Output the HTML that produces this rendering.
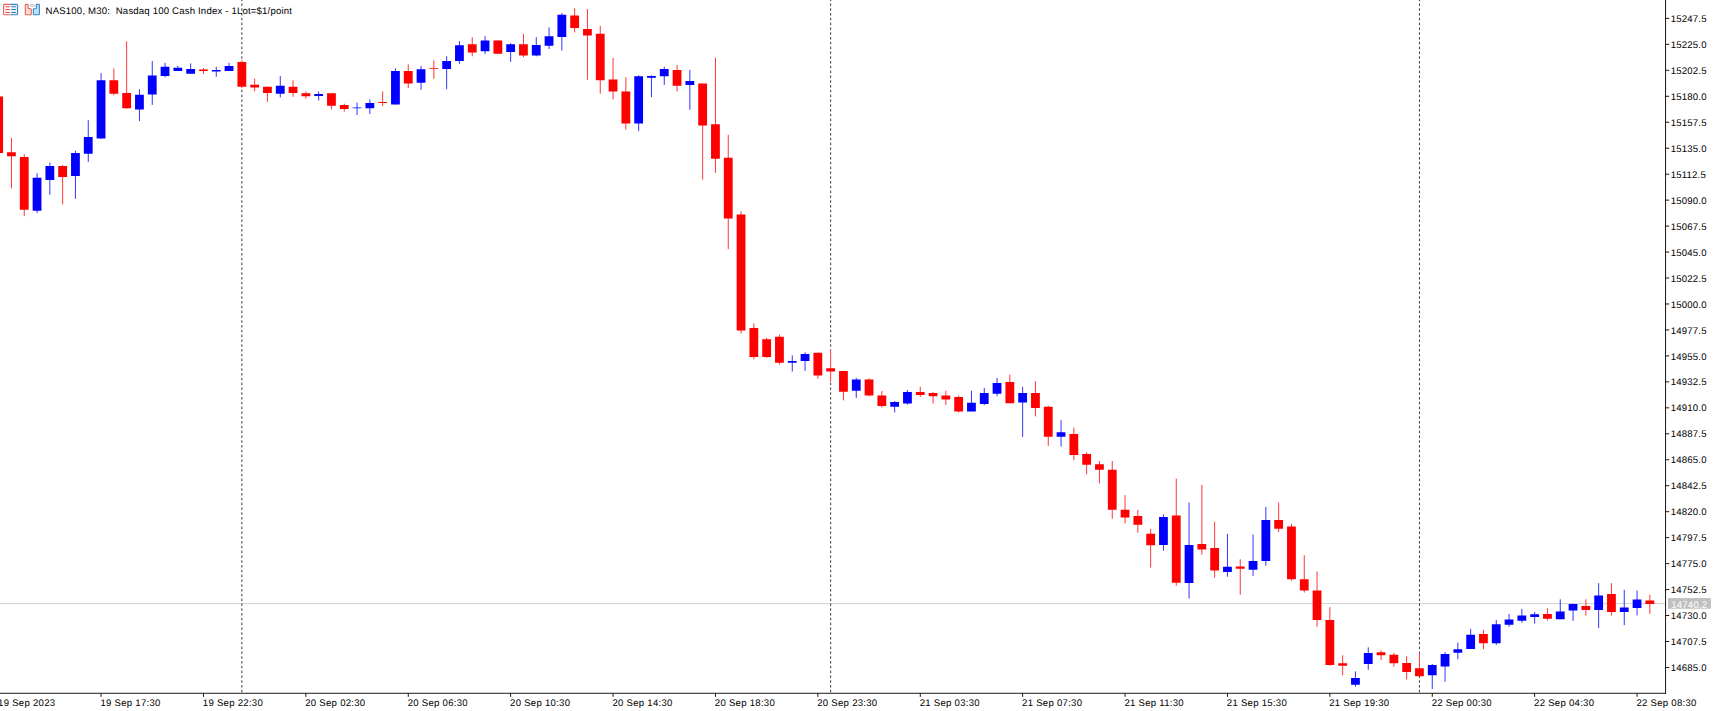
<!DOCTYPE html>
<html lang="en"><head><meta charset="utf-8"><title>NAS100, M30</title>
<style>html,body{margin:0;padding:0;background:#fff;overflow:hidden}svg{display:block}text{font-family:"Liberation Sans","DejaVu Sans",sans-serif;fill:#000;text-rendering:geometricPrecision}.ax{font-size:9.6px;letter-spacing:0.19px}.dt{font-size:9.6px;letter-spacing:0.26px}.tt{font-size:9.6px;letter-spacing:0.175px}</style></head><body>
<svg width="1716" height="711" viewBox="0 0 1716 711">
<rect width="1716" height="711" fill="#fff"/>
<rect x="0" y="603.25" width="1665.6" height="0.85" fill="#c8c8c8"/>
<line x1="241.85" y1="-1.3" x2="241.85" y2="60.2" stroke="#000" stroke-width="0.8" stroke-dasharray="2.4 2.4" stroke-dashoffset="0"/>
<line x1="241.85" y1="88.3" x2="241.85" y2="693.25" stroke="#000" stroke-width="0.8" stroke-dasharray="2.4 2.4" stroke-dashoffset="3.2"/>
<line x1="830.65" y1="-1.3" x2="830.65" y2="349.5" stroke="#000" stroke-width="0.8" stroke-dasharray="2.4 2.4" stroke-dashoffset="0"/>
<line x1="830.65" y1="381.8" x2="830.65" y2="693.25" stroke="#000" stroke-width="0.8" stroke-dasharray="2.4 2.4" stroke-dashoffset="3.9"/>
<line x1="1419.45" y1="-1.3" x2="1419.45" y2="652.7" stroke="#000" stroke-width="0.8" stroke-dasharray="2.4 2.4" stroke-dashoffset="0"/>
<line x1="1419.45" y1="676.2" x2="1419.45" y2="693.25" stroke="#000" stroke-width="0.8" stroke-dasharray="2.4 2.4" stroke-dashoffset="0.7"/>
<path d="M-1.35 96.6V153.1M11.45 137.9V188.4M24.25 154.4V216.2M62.65 165V204.3M113.85 68.4V95.3M126.65 41.4V108.7M203.45 68V74M241.85 60.2V88.3M254.65 78.7V91.4M267.45 86.7V101.8M293.05 80.2V96.8M305.85 91.5V98.7M331.45 93.2V109.3M344.25 103.7V111.7M382.65 91.5V106.1M408.25 64.3V88M433.85 60.3V78.85M472.25 37.2V56.3M497.85 40.4V53.8M523.45 33.9V57.2M574.65 8.2V32.4M587.45 9.1V79.8M600.25 26V93.7M613.05 58V99.3M625.85 77.1V129.6M677.05 65V91.5M702.65 83.6V179.6M715.45 57.7V172.8M728.25 134.8V249.2M741.05 211.3V333.6M753.85 323.4V359.3M766.65 337.9V357.9M779.45 334.7V364.5M817.85 352.7V378.6M830.65 349.5V381.8M843.45 370.9V400.4M869.05 378.3V396.2M881.85 391V407.6M920.25 386.8V397M933.05 392.1V403.6M945.85 390.7V405M958.65 395.5V412.4M1009.85 374.6V403.3M1035.45 381.2V416.4M1048.25 405.8V445.9M1073.85 427.6V460.2M1086.65 452.3V474.4M1099.45 461V483.4M1112.25 461V518.8M1125.05 495.1V523.3M1137.85 509.8V532.7M1150.65 528.9V567.6M1176.25 478.7V585.8M1201.85 485V554.8M1214.65 521.7V577.7M1240.25 559.3V594.7M1278.65 502.4V532.1M1291.45 523.8V580.7M1304.25 555.3V592.6M1317.05 571.5V626.6M1329.85 607.2V665.8M1342.65 655.3V675.4M1381.05 650.3V660.1M1393.85 653V666.8M1406.65 656.2V679.4M1419.45 652.7V676.2M1483.45 629.7V649.2M1547.45 608.2V620.4M1585.85 599.3V615.6M1611.45 583.2V615.6M1649.85 594.8V613.8" stroke="#ff0000" stroke-width="0.8" fill="none"/>
<path d="M37.05 173.2V212.9M49.85 162.6V194.8M75.45 150.7V198.8M88.25 120.2V161.9M101.05 73.1V138.6M139.45 89.1V121M152.25 61V104.9M165.05 62.8V77.4M177.85 65.9V70.9M190.65 63.4V73.8M216.25 66.8V76.8M229.05 62.8V70.9M280.25 76.1V97.5M318.65 91.5V100.5M357.05 102.7V115M369.85 99.5V114M395.45 68.3V104.4M421.05 66V89.9M446.65 56.3V89.2M459.45 41.1V63.9M485.05 36.2V54M510.65 43.2V61.9M536.25 37.1V56.3M549.05 27.4V49M561.85 13.1V50.6M638.65 75.3V131.2M651.45 75.3V97.1M664.25 66.8V84.9M689.85 69.9V109.8M792.25 355.4V371.6M805.05 352.3V370.9M856.25 377.9V398M894.65 401.1V412.4M907.45 390V404.6M971.45 390.7V411.4M984.25 387.9V405.1M997.05 377.9V396.2M1022.65 386.8V437M1061.05 420.2V446.5M1163.45 514.3V550.7M1189.05 502.6V598.6M1227.45 533.9V576.7M1253.05 534.6V576M1265.85 506.9V565.8M1355.45 671.4V686.7M1368.25 647.3V669.8M1432.25 663.9V689M1445.05 652V681.8M1457.85 642.6V659.4M1470.65 628.8V648.9M1496.25 620V644.9M1509.05 614V626.8M1521.85 608.9V622.7M1534.65 612V623.7M1560.25 599.3V619.3M1573.05 603.6V620.9M1598.65 583.2V628M1624.25 589.8V625.1M1637.05 590.6V615.4" stroke="#0000ff" stroke-width="0.8" fill="none"/>
<path d="M-5.75 96.6h8.8V153.1h-8.8zM7.05 152.2h8.8V156.2h-8.8zM19.85 156.9h8.8V209.8h-8.8zM58.25 165.9h8.8V176.9h-8.8zM109.45 80.2h8.8V93.7h-8.8zM122.25 92.9h8.8V108.2h-8.8zM199.05 69.4h8.8V71h-8.8zM237.45 61.9h8.8V86.8h-8.8zM250.25 84.8h8.8V87.5h-8.8zM263.05 86.7h8.8V92.9h-8.8zM288.65 86.7h8.8V92.9h-8.8zM301.45 93.2h8.8V96.2h-8.8zM327.05 93.2h8.8V105.8h-8.8zM339.85 105.1h8.8V109.1h-8.8zM378.25 102.1h8.8V102.9h-8.8zM403.85 70.9h8.8V83.6h-8.8zM429.45 68.25h8.8V69.05h-8.8zM467.85 44.3h8.8V52.4h-8.8zM493.45 40.4h8.8V53.8h-8.8zM519.05 44.3h8.8V55.4h-8.8zM570.25 15.5h8.8V28.1h-8.8zM583.05 29.1h8.8V35.5h-8.8zM595.85 33.8h8.8V80.2h-8.8zM608.65 79.5h8.8V91.4h-8.8zM621.45 91.5h8.8V123.6h-8.8zM672.65 69.9h8.8V85.8h-8.8zM698.25 83.6h8.8V125.6h-8.8zM711.05 124.2h8.8V158.7h-8.8zM723.85 157.8h8.8V218.5h-8.8zM736.65 214.6h8.8V330.6h-8.8zM749.45 328.1h8.8V356.9h-8.8zM762.25 339.3h8.8V356.9h-8.8zM775.05 336.8h8.8V362.8h-8.8zM813.45 352.7h8.8V375.5h-8.8zM826.25 368.2h8.8V371.6h-8.8zM839.05 370.9h8.8V391.7h-8.8zM864.65 379.4h8.8V395.6h-8.8zM877.45 395.5h8.8V406h-8.8zM915.85 392.1h8.8V394.9h-8.8zM928.65 393.1h8.8V396.2h-8.8zM941.45 395.5h8.8V399.4h-8.8zM954.25 397h8.8V411.6h-8.8zM1005.45 381.9h8.8V403.3h-8.8zM1031.05 393.1h8.8V407.9h-8.8zM1043.85 406.8h8.8V436.8h-8.8zM1069.45 433.9h8.8V455h-8.8zM1082.25 454h8.8V464.8h-8.8zM1095.05 464.3h8.8V469.7h-8.8zM1107.85 469.7h8.8V509.8h-8.8zM1120.65 509.8h8.8V517.6h-8.8zM1133.45 516.1h8.8V524.8h-8.8zM1146.25 533.8h8.8V545.3h-8.8zM1171.85 515.4h8.8V582.7h-8.8zM1197.45 544h8.8V549.6h-8.8zM1210.25 548h8.8V570.5h-8.8zM1235.85 566.6h8.8V568.8h-8.8zM1274.25 519.9h8.8V528.7h-8.8zM1287.05 526.5h8.8V579.3h-8.8zM1299.85 579.3h8.8V590.4h-8.8zM1312.65 590.6h8.8V619.9h-8.8zM1325.45 619.9h8.8V664.9h-8.8zM1338.25 663.3h8.8V665.7h-8.8zM1376.65 652.3h8.8V655.2h-8.8zM1389.45 654.8h8.8V663.2h-8.8zM1402.25 663h8.8V672h-8.8zM1415.05 668.2h8.8V676.2h-8.8zM1479.05 634.1h8.8V643.3h-8.8zM1543.05 614.1h8.8V618.7h-8.8zM1581.45 606.1h8.8V609.9h-8.8zM1607.05 594.1h8.8V612h-8.8zM1645.45 600.4h8.8V604.1h-8.8z" fill="#ff0000"/>
<path d="M32.65 177.8h8.8V210.7h-8.8zM45.45 165.9h8.8V180.1h-8.8zM71.05 153.1h8.8V175.9h-8.8zM83.85 137h8.8V153.8h-8.8zM96.65 80.2h8.8V138.6h-8.8zM135.05 94.8h8.8V109.6h-8.8zM147.85 75.5h8.8V94.5h-8.8zM160.65 66.8h8.8V76.1h-8.8zM173.45 67.7h8.8V70.9h-8.8zM186.25 69h8.8V73.8h-8.8zM211.85 70h8.8V71.6h-8.8zM224.65 66h8.8V70.9h-8.8zM275.85 85.8h8.8V93.8h-8.8zM314.25 94.1h8.8V96.1h-8.8zM352.65 107.5h8.8V108.3h-8.8zM365.45 103h8.8V108.2h-8.8zM391.05 70.9h8.8V104.4h-8.8zM416.65 69.2h8.8V82.7h-8.8zM442.25 61.1h8.8V69h-8.8zM455.05 45.3h8.8V61.1h-8.8zM480.65 40.4h8.8V51.2h-8.8zM506.25 44.3h8.8V52.1h-8.8zM531.85 45.1h8.8V55.5h-8.8zM544.65 36.3h8.8V45.7h-8.8zM557.45 14.8h8.8V37h-8.8zM634.25 76.3h8.8V123.6h-8.8zM647.05 76.1h8.8V77.8h-8.8zM659.85 68.9h8.8V76.2h-8.8zM685.45 81h8.8V85h-8.8zM787.85 360.9h8.8V362.8h-8.8zM800.65 354h8.8V361h-8.8zM851.85 379.4h8.8V390.7h-8.8zM890.25 401.9h8.8V406.7h-8.8zM903.05 392.1h8.8V403.6h-8.8zM967.05 402.8h8.8V411.4h-8.8zM979.85 393.1h8.8V404.1h-8.8zM992.65 382.9h8.8V393.8h-8.8zM1018.25 393.1h8.8V402.6h-8.8zM1056.65 432.2h8.8V436.8h-8.8zM1159.05 517h8.8V544.9h-8.8zM1184.65 544.9h8.8V583.1h-8.8zM1223.05 566.8h8.8V572.1h-8.8zM1248.65 561.1h8.8V569.7h-8.8zM1261.45 519.9h8.8V560.9h-8.8zM1351.05 678h8.8V684.8h-8.8zM1363.85 653h8.8V663.9h-8.8zM1427.85 665.1h8.8V675.2h-8.8zM1440.65 654.1h8.8V666.5h-8.8zM1453.45 649.2h8.8V652.7h-8.8zM1466.25 634.8h8.8V648.9h-8.8zM1491.85 624.3h8.8V643.3h-8.8zM1504.65 619.5h8.8V624.8h-8.8zM1517.45 615.6h8.8V620.8h-8.8zM1530.25 614.2h8.8V616.9h-8.8zM1555.85 611.5h8.8V619.3h-8.8zM1568.65 604.1h8.8V610.6h-8.8zM1594.25 595.45h8.8V609.9h-8.8zM1619.85 607.5h8.8V612h-8.8zM1632.65 599.5h8.8V608h-8.8z" fill="#0000ff"/>
<rect x="1665.6" y="0" width="50.40000000000009" height="711" fill="#fff"/>
<rect x="0" y="693.25" width="1716" height="17.75" fill="#fff"/>
<rect x="1665.1499999999999" y="0" width="0.9" height="693.7" fill="#000"/>
<rect x="0" y="692.8" width="1666.05" height="0.9" fill="#000"/>
<rect x="1665.6" y="17.9" width="3.6" height="0.9" fill="#000"/>
<text class="ax" x="1670.7" y="21.95">15247.5</text>
<rect x="1665.6" y="43.87" width="3.6" height="0.9" fill="#000"/>
<text class="ax" x="1670.7" y="47.92">15225.0</text>
<rect x="1665.6" y="69.83" width="3.6" height="0.9" fill="#000"/>
<text class="ax" x="1670.7" y="73.88">15202.5</text>
<rect x="1665.6" y="95.8" width="3.6" height="0.9" fill="#000"/>
<text class="ax" x="1670.7" y="99.85">15180.0</text>
<rect x="1665.6" y="121.76" width="3.6" height="0.9" fill="#000"/>
<text class="ax" x="1670.7" y="125.81">15157.5</text>
<rect x="1665.6" y="147.73" width="3.6" height="0.9" fill="#000"/>
<text class="ax" x="1670.7" y="151.78">15135.0</text>
<rect x="1665.6" y="173.7" width="3.6" height="0.9" fill="#000"/>
<text class="ax" x="1670.7" y="177.75">15112.5</text>
<rect x="1665.6" y="199.66" width="3.6" height="0.9" fill="#000"/>
<text class="ax" x="1670.7" y="203.71">15090.0</text>
<rect x="1665.6" y="225.63" width="3.6" height="0.9" fill="#000"/>
<text class="ax" x="1670.7" y="229.68">15067.5</text>
<rect x="1665.6" y="251.59" width="3.6" height="0.9" fill="#000"/>
<text class="ax" x="1670.7" y="255.64">15045.0</text>
<rect x="1665.6" y="277.56" width="3.6" height="0.9" fill="#000"/>
<text class="ax" x="1670.7" y="281.61">15022.5</text>
<rect x="1665.6" y="303.53" width="3.6" height="0.9" fill="#000"/>
<text class="ax" x="1670.7" y="307.58">15000.0</text>
<rect x="1665.6" y="329.49" width="3.6" height="0.9" fill="#000"/>
<text class="ax" x="1670.7" y="333.54">14977.5</text>
<rect x="1665.6" y="355.46" width="3.6" height="0.9" fill="#000"/>
<text class="ax" x="1670.7" y="359.51">14955.0</text>
<rect x="1665.6" y="381.42" width="3.6" height="0.9" fill="#000"/>
<text class="ax" x="1670.7" y="385.47">14932.5</text>
<rect x="1665.6" y="407.39" width="3.6" height="0.9" fill="#000"/>
<text class="ax" x="1670.7" y="411.44">14910.0</text>
<rect x="1665.6" y="433.36" width="3.6" height="0.9" fill="#000"/>
<text class="ax" x="1670.7" y="437.41">14887.5</text>
<rect x="1665.6" y="459.32" width="3.6" height="0.9" fill="#000"/>
<text class="ax" x="1670.7" y="463.37">14865.0</text>
<rect x="1665.6" y="485.29" width="3.6" height="0.9" fill="#000"/>
<text class="ax" x="1670.7" y="489.34">14842.5</text>
<rect x="1665.6" y="511.25" width="3.6" height="0.9" fill="#000"/>
<text class="ax" x="1670.7" y="515.3">14820.0</text>
<rect x="1665.6" y="537.22" width="3.6" height="0.9" fill="#000"/>
<text class="ax" x="1670.7" y="541.27">14797.5</text>
<rect x="1665.6" y="563.19" width="3.6" height="0.9" fill="#000"/>
<text class="ax" x="1670.7" y="567.24">14775.0</text>
<rect x="1665.6" y="589.15" width="3.6" height="0.9" fill="#000"/>
<text class="ax" x="1670.7" y="593.2">14752.5</text>
<rect x="1665.6" y="615.12" width="3.6" height="0.9" fill="#000"/>
<text class="ax" x="1670.7" y="619.17">14730.0</text>
<rect x="1665.6" y="641.08" width="3.6" height="0.9" fill="#000"/>
<text class="ax" x="1670.7" y="645.13">14707.5</text>
<rect x="1665.6" y="667.05" width="3.6" height="0.9" fill="#000"/>
<text class="ax" x="1670.7" y="671.1">14685.0</text>
<rect x="1668" y="598.05" width="42.9" height="10.7" fill="#c0c0c0"/>
<text class="ax" x="1671.3" y="607.9" style="fill:#fff">14740.2</text>
<rect x="-1.8" y="693.25" width="0.9" height="3.6" fill="#000"/>
<text class="dt" x="-1.95" y="705.8">19 Sep 2023</text>
<rect x="100.6" y="693.25" width="0.9" height="3.6" fill="#000"/>
<text class="dt" x="100.45" y="705.8">19 Sep 17:30</text>
<rect x="203" y="693.25" width="0.9" height="3.6" fill="#000"/>
<text class="dt" x="202.85" y="705.8">19 Sep 22:30</text>
<rect x="305.4" y="693.25" width="0.9" height="3.6" fill="#000"/>
<text class="dt" x="305.25" y="705.8">20 Sep 02:30</text>
<rect x="407.8" y="693.25" width="0.9" height="3.6" fill="#000"/>
<text class="dt" x="407.65" y="705.8">20 Sep 06:30</text>
<rect x="510.2" y="693.25" width="0.9" height="3.6" fill="#000"/>
<text class="dt" x="510.05" y="705.8">20 Sep 10:30</text>
<rect x="612.6" y="693.25" width="0.9" height="3.6" fill="#000"/>
<text class="dt" x="612.45" y="705.8">20 Sep 14:30</text>
<rect x="715" y="693.25" width="0.9" height="3.6" fill="#000"/>
<text class="dt" x="714.85" y="705.8">20 Sep 18:30</text>
<rect x="817.4" y="693.25" width="0.9" height="3.6" fill="#000"/>
<text class="dt" x="817.25" y="705.8">20 Sep 23:30</text>
<rect x="919.8" y="693.25" width="0.9" height="3.6" fill="#000"/>
<text class="dt" x="919.65" y="705.8">21 Sep 03:30</text>
<rect x="1022.2" y="693.25" width="0.9" height="3.6" fill="#000"/>
<text class="dt" x="1022.05" y="705.8">21 Sep 07:30</text>
<rect x="1124.6" y="693.25" width="0.9" height="3.6" fill="#000"/>
<text class="dt" x="1124.45" y="705.8">21 Sep 11:30</text>
<rect x="1227" y="693.25" width="0.9" height="3.6" fill="#000"/>
<text class="dt" x="1226.85" y="705.8">21 Sep 15:30</text>
<rect x="1329.4" y="693.25" width="0.9" height="3.6" fill="#000"/>
<text class="dt" x="1329.25" y="705.8">21 Sep 19:30</text>
<rect x="1431.8" y="693.25" width="0.9" height="3.6" fill="#000"/>
<text class="dt" x="1431.65" y="705.8">22 Sep 00:30</text>
<rect x="1534.2" y="693.25" width="0.9" height="3.6" fill="#000"/>
<text class="dt" x="1534.05" y="705.8">22 Sep 04:30</text>
<rect x="1636.6" y="693.25" width="0.9" height="3.6" fill="#000"/>
<text class="dt" x="1636.45" y="705.8">22 Sep 08:30</text>
<g id="icons">
<rect x="3.5" y="4.35" width="7.05" height="10.4" fill="#fff1ec"/><rect x="10.55" y="4.35" width="7.05" height="10.4" fill="#e4f2fd"/>
<path d="M10.55 4.35H4.6a1.1 1.1 0 0 0-1.1 1.1v8.2a1.1 1.1 0 0 0 1.1 1.1h5.95" fill="none" stroke="#e2625c" stroke-width="1.1"/>
<path d="M10.55 4.35h5.95a1.1 1.1 0 0 1 1.1 1.1v8.2a1.1 1.1 0 0 1-1.1 1.1h-5.95" fill="none" stroke="#3a86c4" stroke-width="1.1"/>
<rect x="5.4" y="6.15" width="4.5" height="1" rx="0.4" fill="#e0504a"/>
<rect x="11.2" y="6.15" width="4.8" height="1" rx="0.4" fill="#2c7dc0"/>
<rect x="5.4" y="9.10" width="4.5" height="1" rx="0.4" fill="#e0504a"/>
<rect x="11.2" y="9.10" width="4.8" height="1" rx="0.4" fill="#2c7dc0"/>
<rect x="5.4" y="12.05" width="4.5" height="1" rx="0.4" fill="#e0504a"/>
<rect x="11.2" y="12.05" width="4.8" height="1" rx="0.4" fill="#2c7dc0"/>
<path d="M26.1 4.35h1.25a0.8 0.8 0 0 1 .8 .8v2.75a0.8 0.8 0 0 0 .8 .8h1.5a0.8 0.8 0 0 1 .8 .8v4.45a0.8 0.8 0 0 1-.8 .8h-4.35a0.8 0.8 0 0 1-.8-.8v-8.8a0.8 0.8 0 0 1 .8-.8z" fill="#fedcd3" stroke="#e2625c" stroke-width="1.1"/>
<path d="M38.6 4.35h-1.55a0.8 0.8 0 0 0-.8 .8v2.75a0.8 0.8 0 0 1-.8 .8h-1.3a0.8 0.8 0 0 0-.8 .8v4.45a0.8 0.8 0 0 0 .8 .8h4.45a0.8 0.8 0 0 0 .8-.8v-8.8a0.8 0.8 0 0 0-.8-.8z" fill="#bde0fb" stroke="#3a86c4" stroke-width="1.1"/>
<rect x="30.25" y="4.5" width="4.2" height="1.85" rx="0.9" fill="#fff" stroke="#bcbcbc" stroke-width="1"/>
</g>
<text class="tt" x="45.6" y="14" xml:space="preserve" style="white-space:pre">NAS100, M30:  Nasdaq 100 Cash Index - 1Lot=$1/point</text>
</svg></body></html>
